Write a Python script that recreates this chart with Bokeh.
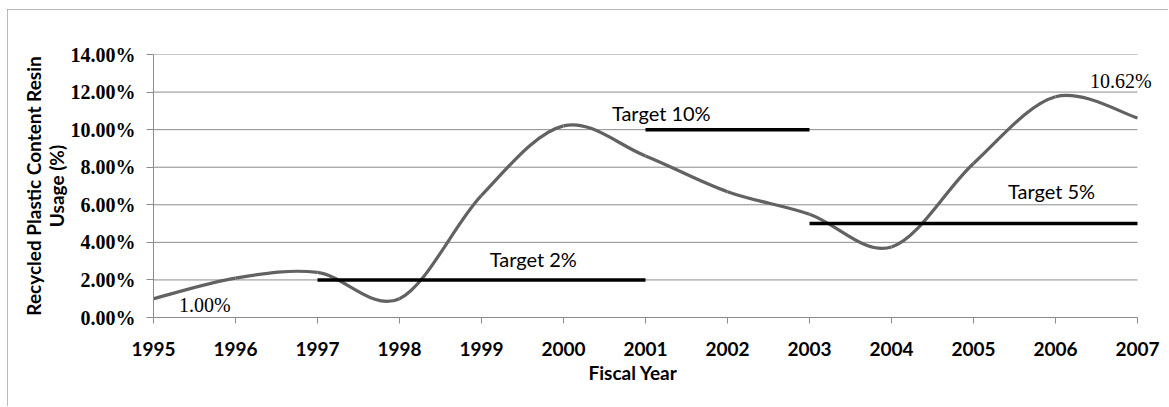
from bokeh.plotting import figure
from bokeh.models import FixedTicker, PrintfTickFormatter, Label, Range1d, ColumnDataSource, Title
from bokeh.embed import file_html
from bokeh.resources import INLINE

# Fiscal years and recycled resin share (%)
years = [1995, 1996, 1997, 1998, 1999, 2000, 2001, 2002, 2003, 2004, 2005, 2006, 2007]
usage = [1.00, 2.10, 2.40, 1.00, 6.50, 10.20, 8.60, 6.70, 5.50, 3.75, 8.20, 11.75, 10.62]

# Target periods
target_start = [1997, 2001, 2003]
target_end = [2001, 2003, 2007]
target_value = [2, 10, 5]
target_text = ["Target 2%", "Target 10%", "Target 5%"]

y_ticks = [0, 2, 4, 6, 8, 10, 12, 14]

GRID = "#8c8c8c"
SANS = "Lato"
SERIF = "Liberation Serif"

p = figure(
    width=1161, height=397,
    x_range=Range1d(1995, 2007.305), y_range=Range1d(0, 14),
    output_backend="svg", toolbar_location=None,
    min_border_left=146, min_border_right=6,
    min_border_top=45, min_border_bottom=89,
    margin=(9, 0, 0, 7),
)
p.styles = {"outline": "1px solid #a3a3a3", "outline-offset": "-1px"}
p.outline_line_color = None
p.background_fill_color = "white"
p.border_fill_color = "white"

# horizontal gridlines end at the last fiscal year
p.xgrid.visible = False
p.ygrid.visible = False
p.segment(x0=years[0], x1=years[-1], y0=y_ticks, y1=y_ticks, line_color=GRID, line_width=1)

# y axis
p.yaxis.ticker = FixedTicker(ticks=y_ticks)
p.yaxis.formatter = PrintfTickFormatter(format="%.2f%%")
p.yaxis.major_label_text_font = SERIF
p.yaxis.major_label_text_font_style = "bold"
p.yaxis.major_label_text_font_size = "20px"
p.yaxis.major_label_text_color = "black"
p.yaxis.major_label_standoff = 11
p.yaxis.major_tick_out = 7
p.yaxis.major_tick_in = 0
p.yaxis.minor_tick_line_color = None
p.yaxis.axis_line_color = GRID
p.yaxis.major_tick_line_color = GRID
p.yaxis.axis_label = "Recycled Plastic Content Resin\nUsage (%)"
p.yaxis.axis_label_text_font = SANS
p.yaxis.axis_label_text_font_style = "bold"
p.yaxis.axis_label_text_font_size = "19px"
p.yaxis.axis_label_text_line_height = 1.0
p.yaxis.axis_label_text_color = "black"
p.yaxis.axis_label_standoff = 0

# x axis
p.xaxis.ticker = FixedTicker(ticks=years)
p.xaxis.bounds = (years[0], years[-1])
p.xaxis.major_label_text_font = SANS
p.xaxis.major_label_text_font_style = "bold"
p.xaxis.major_label_text_font_size = "19px"
p.xaxis.major_label_text_color = "black"
p.xaxis.major_label_standoff = 18
p.xaxis.major_tick_out = 6
p.xaxis.major_tick_in = 0
p.xaxis.minor_tick_line_color = None
p.xaxis.axis_line_color = GRID
p.xaxis.major_tick_line_color = GRID

# x axis title
p.add_layout(Title(text="Fiscal Year", align="left", offset=435, standoff=0,
                   text_font=SANS, text_font_style="bold", text_font_size="19px",
                   text_color="black"), "below")

# smoothed usage line (cubic Bezier segments through the yearly points)
n = len(years)
k = 1.0 / 6.0
seg = dict(x0=[], y0=[], x1=[], y1=[], cx0=[], cy0=[], cx1=[], cy1=[])
for i in range(n - 1):
    xp, yp = years[max(i - 1, 0)], usage[max(i - 1, 0)]
    xa, ya = years[i], usage[i]
    xb, yb = years[i + 1], usage[i + 1]
    xn, yn = years[min(i + 2, n - 1)], usage[min(i + 2, n - 1)]
    seg["x0"].append(xa); seg["y0"].append(ya)
    seg["x1"].append(xb); seg["y1"].append(yb)
    seg["cx0"].append(xa + (xb - xp) * k); seg["cy0"].append(ya + (yb - yp) * k)
    seg["cx1"].append(xb - (xn - xa) * k); seg["cy1"].append(yb - (yn - ya) * k)
p.bezier(x0="x0", y0="y0", x1="x1", y1="y1", cx0="cx0", cy0="cy0", cx1="cx1", cy1="cy1",
         source=ColumnDataSource(seg), line_color="#626262", line_width=3.2)

# target segments
p.segment(x0=target_start, y0=target_value, x1=target_end, y1=target_value,
          line_color="black", line_width=3.5)

# target captions
target_pos = [(1999.10, 3.09), (2000.59, 10.90), (2005.42, 6.72)]
for txt, (tx, ty) in zip(target_text, target_pos):
    p.add_layout(Label(x=tx, y=ty, text=txt, text_font=SANS, text_font_size="20px",
                       text_color="black", text_baseline="alphabetic", text_align="left"))

# first and last value labels
first_label = "%.2f%%" % usage[0]
last_label = "%.2f%%" % usage[-1]
p.add_layout(Label(x=1995.31, y=0.64, text=first_label, text_font=SERIF,
                   text_font_size="20px", text_color="black", text_baseline="alphabetic"))
p.add_layout(Label(x=2006.42, y=12.57, text=last_label, text_font=SERIF,
                   text_font_size="20px", text_color="black", text_baseline="alphabetic"))

open("out.html", "w").write(file_html(p, INLINE))
